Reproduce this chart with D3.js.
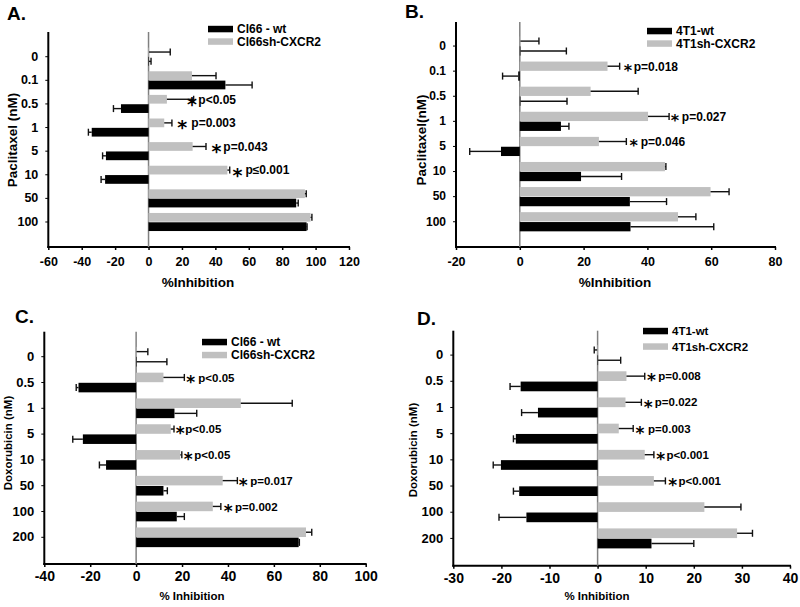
<!DOCTYPE html>
<html>
<head>
<meta charset="utf-8">
<script src="https://cdn.jsdelivr.net/npm/d3@7"></script>
<style>
  html, body { margin: 0; padding: 0; background: #fff; }
  svg { display: block; font-family: "Liberation Sans", Arial, sans-serif; font-weight: bold; }
</style>
</head>
<body>
<svg id="chart" width="800" height="607"></svg>
<script>
// ---------- DATA ----------
const catsPac = ["0", "0.1", "0.5", "1", "5", "10", "50", "100"];
const catsDox = ["0", "0.5", "1", "5", "10", "50", "100", "200"];

// Panel A: Cl66, Paclitaxel
const wtA    = [0.3, 46, -16.5, -34, -25.5, -26, 88.4, 94.6];
const wtErrA = [1.2, 16, 4.5, 2, 2, 2.4, 1.2, 0.3];
const shA    = [0.3, 26, 11, 9.4, 26.4, 47.2, 93.6, 97];
const shErrA = [12.7, 14.4, 16, 4.6, 8, 1.4, 0.8, 0.8];
const notesA = [
  { cat: "0.5", ast: 26,   txt: 29.8, label: "p<0.05" },
  { cat: "1",   ast: 20.2, txt: 25.6, label: "p=0.003" },
  { cat: "5",   ast: 40.7, txt: 44.8, label: "p=0.043" },
  { cat: "10",  ast: 53.2, txt: 58,   label: "p\u22640.001" }
];
const ticksA = [-60, -40, -20, 0, 20, 40, 60, 80, 100, 120];

// Panel B: 4T1, Paclitaxel
const wtB    = [0.2, -0.5, 0.2, 12.9, -5.9, 19.2, 34.5, 34.7];
const wtErrB = [14.4, 4.9, 14.6, 2.5, 9.8, 12.7, 11.5, 26.1];
const shB    = [0.2, 27.5, 22.2, 40.2, 24.8, 45.5, 59.8, 49.6];
const shErrB = [5.8, 3.8, 14.9, 6.6, 8.6, 0.3, 5.8, 5.6];
const notesB = [
  { cat: "0.1", ast: 33.9, txt: 35.7, label: "p=0.018" },
  { cat: "1",   ast: 48.6, txt: 50.8, label: "p=0.027" },
  { cat: "5",   ast: 35.7, txt: 37.9, label: "p=0.046" }
];
const ticksB = [-20, 0, 20, 40, 60, 80];

// Panel C: Cl66, Doxorubicin
const wtC    = [0.2, -25.1, 16.7, -23.2, -13.1, 11.9, 17.7, 70.8];
const wtErrC = [13.2, 1, 9.7, 4.4, 2.9, 1.7, 3.3, 0.3];
const shC    = [0.2, 11.9, 45.6, 15.1, 19.2, 37.7, 33.4, 74];
const shErrC = [4.9, 9.1, 22.4, 1.4, 0.7, 6.4, 3.5, 2.5];
const notesC = [
  { cat: "0.5", ast: 23.8, txt: 27.1, label: "p<0.05" },
  { cat: "5",   ast: 19.2, txt: 21.4, label: "p<0.05" },
  { cat: "10",  ast: 22.7, txt: 25.3, label: "p<0.05" },
  { cat: "50",  ast: 46.6, txt: 49.7, label: "p=0.017" },
  { cat: "100", ast: 40.1, txt: 43.1, label: "p=0.002" }
];
const ticksC = [-40, -20, 0, 20, 40, 60, 80, 100];

// Panel D: 4T1, Doxorubicin
const wtD    = [0.1, -16, -12.4, -17, -20.1, -16.3, -14.8, 11.2];
const wtErrD = [4.7, 2.2, 3.4, 0.5, 1.6, 1.2, 5.7, 8.8];
const shD    = [-0.1, 6.0, 5.8, 4.4, 9.8, 11.7, 22.2, 29];
const shErrD = [0.6, 3.8, 3.3, 3.0, 1.9, 2.4, 7.6, 3.2];
const notesD = [
  { cat: "0.5", ast: 11.2, txt: 12.6, label: "p=0.008" },
  { cat: "1",   ast: 10.5, txt: 11.9, label: "p=0.022" },
  { cat: "5",   ast: 8.8,  txt: 10.5, label: "p=0.003" },
  { cat: "10",  ast: 13.1, txt: 14.3, label: "p<0.001" },
  { cat: "50",  ast: 15.6, txt: 16.8, label: "p<0.001" }
];
const ticksD = [-30, -20, -10, 0, 10, 20, 30, 40];

// ---------- DRAWING ----------
const svg = d3.select("#chart");
const GREY = "#c0c0c0";
const FONT = "Liberation Sans, Arial, sans-serif";

function drawPanel(p) {
  const g = svg.append("g");
  const x = d3.scaleLinear().domain(p.domain).range([p.left, p.right]);
  const y = d3.scaleBand().domain(p.cats).range(p.band);
  const bw = y.bandwidth();
  const bh = bw * 0.37;

  // panel letter
  g.append("text").attr("x", p.letterX).attr("y", p.letterY)
    .attr("font-size", 19).text(p.letter);

  // x axis
  const xa = g.append("g").attr("transform", `translate(0,${p.bottom})`)
    .call(d3.axisBottom(x).tickValues(p.ticks).tickFormat(d => String(d))
      .tickSizeInner(3).tickSizeOuter(0).tickPadding(p.tickPad));
  xa.select(".domain").remove();
  xa.selectAll(".tick line").attr("stroke", "#000").attr("stroke-width", 1.5);
  xa.selectAll(".tick text").attr("font-size", p.tickFont).attr("font-weight", "bold")
    .attr("font-family", FONT).attr("fill", "#000");
  g.append("line").attr("x1", p.left - 1).attr("x2", p.right + 1)
    .attr("y1", p.bottom).attr("y2", p.bottom).attr("stroke", "#000").attr("stroke-width", 2);

  // y axis
  const ya = g.append("g").attr("transform", `translate(${p.left},0)`)
    .call(d3.axisLeft(y).tickSizeInner(3).tickSizeOuter(0).tickPadding(7));
  ya.select(".domain").remove();
  ya.selectAll(".tick line").attr("stroke", "#000").attr("stroke-width", 1);
  ya.selectAll(".tick text").attr("font-size", p.yTickFont).attr("font-weight", "bold")
    .attr("font-family", FONT).attr("fill", "#000");
  g.append("line").attr("x1", p.left).attr("x2", p.left)
    .attr("y1", p.top).attr("y2", p.bottom + 1).attr("stroke", "#000").attr("stroke-width", 2);

  // zero line
  g.append("line").attr("x1", x(0)).attr("x2", x(0))
    .attr("y1", p.top).attr("y2", p.bottom).attr("stroke", "#808080").attr("stroke-width", 1.5);

  // bars: grey (sh) on top row, black (wt) on bottom row
  const rows = [
    { vals: p.sh, errs: p.shErr, color: GREY, off: -bh - 0.3 },
    { vals: p.wt, errs: p.wtErr, color: "#000", off: 0.3 }
  ];
  rows.forEach(r => {
    const data = p.cats.map((c, i) => ({ c, v: r.vals[i], e: r.errs[i] }));
    g.append("g").selectAll("rect").data(data).join("rect")
      .attr("x", d => Math.min(x(0), x(d.v)))
      .attr("width", d => Math.abs(x(d.v) - x(0)))
      .attr("y", d => y(d.c) + bw / 2 + r.off)
      .attr("height", bh)
      .attr("fill", r.color);
    const eg = g.append("g").attr("stroke", "#111").attr("stroke-width", 1.4);
    data.forEach(d => {
      const cy = y(d.c) + bw / 2 + r.off + bh / 2;
      const end = d.v + (d.v < 0 ? -d.e : d.e);
      eg.append("line").attr("x1", x(d.v)).attr("x2", x(end)).attr("y1", cy).attr("y2", cy);
      eg.append("line").attr("x1", x(end)).attr("x2", x(end)).attr("y1", cy - 3.5).attr("y2", cy + 3.5);
    });
  });

  // annotations
  p.notes.forEach(n => {
    const cy = y(n.cat) + bw / 2 - bh / 2 - 0.3;
    g.append("text").attr("x", x(n.ast)).attr("y", cy + p.astSize * 0.6)
      .attr("text-anchor", "middle").attr("font-size", p.astSize)
      .attr("font-family", "DejaVu Sans, sans-serif").text("*");
    g.append("text").attr("x", x(n.txt)).attr("y", cy + p.noteFont * 0.36)
      .attr("font-size", p.noteFont).text(n.label);
  });

  // legend
  const lg = g.append("g");
  [[p.legWt, "#000"], [p.legSh, GREY]].forEach((l, i) => {
    const ly = p.legY + i * p.legGap;
    lg.append("rect").attr("x", p.legX).attr("y", ly - 3.2).attr("width", 25).attr("height", 6.5).attr("fill", l[1]);
    lg.append("text").attr("x", p.legX + 29).attr("y", ly + p.legFont * 0.36)
      .attr("font-size", p.legFont).text(l[0]);
  });

  // axis titles
  g.append("text").attr("x", p.xTitleX).attr("y", p.xTitleY).attr("text-anchor", "middle")
    .attr("font-size", p.xTitleFont).text(p.xTitle);
  g.append("text").attr("transform", `translate(${p.yTitleX},${p.yTitleY}) rotate(-90)`)
    .attr("text-anchor", "middle").attr("font-size", p.yTitleFont).text(p.yTitle);
}

drawPanel({
  letter: "A.", letterX: 7, letterY: 20,
  cats: catsPac, wt: wtA, wtErr: wtErrA, sh: shA, shErr: shErrA, notes: notesA,
  domain: [-60, 120], ticks: ticksA, left: 48.3, right: 349, top: 32, bottom: 247, band: [44.9, 233.8],
  tickFont: 12.5, tickPad: 7, yTickFont: 12.5, astSize: 19, noteFont: 12,
  legX: 208, legY: 29, legGap: 12.5, legFont: 12, legWt: "Cl66 - wt", legSh: "Cl66sh-CXCR2",
  xTitle: "%Inhibition", xTitleX: 198, xTitleY: 287, xTitleFont: 13.5,
  yTitle: "Paclitaxel (nM)", yTitleX: 17, yTitleY: 140, yTitleFont: 13.5
});

drawPanel({
  letter: "B.", letterX: 405, letterY: 18,
  cats: catsPac, wt: wtB, wtErr: wtErrB, sh: shB, shErr: shErrB, notes: notesB,
  domain: [-20, 80], ticks: ticksB, left: 456, right: 775, top: 22, bottom: 247, band: [33.5, 234.3],
  tickFont: 12.5, tickPad: 7, yTickFont: 12, astSize: 16, noteFont: 12,
  legX: 647, legY: 31, legGap: 12.5, legFont: 12, legWt: "4T1-wt", legSh: "4T1sh-CXCR2",
  xTitle: "%Inhibition", xTitleX: 615, xTitleY: 287, xTitleFont: 13.5,
  yTitle: "Paclitaxel(nM)", yTitleX: 426, yTitleY: 140, yTitleFont: 13.5
});

drawPanel({
  letter: "C.", letterX: 15, letterY: 323,
  cats: catsDox, wt: wtC, wtErr: wtErrC, sh: shC, shErr: shErrC, notes: notesC,
  domain: [-40, 100], ticks: ticksC, left: 44.3, right: 365.7, top: 331.7, bottom: 564, band: [343.8, 550.2],
  tickFont: 14, tickPad: 4, yTickFont: 13, astSize: 17, noteFont: 11.5,
  legX: 202, legY: 342, legGap: 13, legFont: 12, legWt: "Cl66 - wt", legSh: "Cl66sh-CXCR2",
  xTitle: "% Inhibition", xTitleX: 192, xTitleY: 600, xTitleFont: 11.5,
  yTitle: "Doxorubicin (nM)", yTitleX: 12, yTitleY: 443, yTitleFont: 11.5
});

drawPanel({
  letter: "D.", letterX: 417, letterY: 325,
  cats: catsDox, wt: wtD, wtErr: wtErrD, sh: shD, shErr: shErrD, notes: notesD,
  domain: [-30, 40], ticks: ticksD, left: 453.3, right: 790, top: 330.7, bottom: 565.7, band: [342, 551.5],
  tickFont: 14, tickPad: 4, yTickFont: 13, astSize: 17, noteFont: 11.5,
  legX: 643, legY: 331, legGap: 15.5, legFont: 11.5, legWt: "4T1-wt", legSh: "4T1sh-CXCR2",
  xTitle: "% Inhibition", xTitleX: 597, xTitleY: 600, xTitleFont: 11.5,
  yTitle: "Doxorubicin (nM)", yTitleX: 417, yTitleY: 450, yTitleFont: 11.5
});
</script>
</body>
</html>
